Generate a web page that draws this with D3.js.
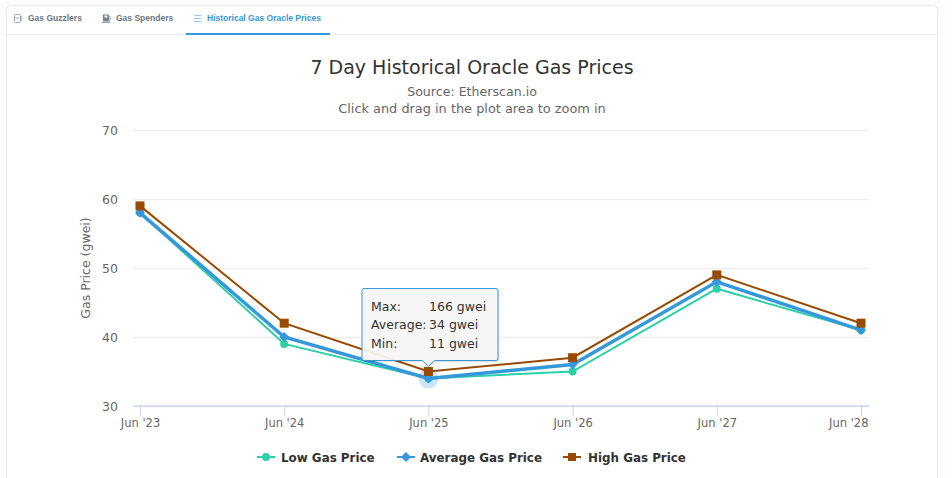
<!DOCTYPE html>
<html>
<head>
<meta charset="utf-8">
<script src="https://cdn.jsdelivr.net/npm/d3@7"></script>
<style>
  html, body { margin: 0; padding: 0; background: #ffffff; overflow: hidden; }
  text { font-family: "DejaVu Sans", sans-serif; }
  .tab { font-family: "Liberation Sans", sans-serif; font-size: 8.5px; font-weight: bold; }
</style>
</head>
<body>
<div id="chart"></div>
<script>
// Chart data
const categories = ["Jun '23", "Jun '24", "Jun '25", "Jun '26", "Jun '27", "Jun '28"];
const lowPrices = [58, 39, 34, 35, 47, 41];
const avgPrices = [58, 40, 34, 36, 48, 41];
const highPrices = [59, 42, 35, 37, 49, 42];
const yTicks = [30, 40, 50, 60, 70];
const tooltipLabels = ["Max:", "Average:", "Min:"];
const tooltipValues = ["166 gwei", "34 gwei", "11 gwei"];
const tabNames = ["Gas Guzzlers", "Gas Spenders", "Historical Gas Oracle Prices"];

const width = 952, height = 478;
const svg = d3.select("#chart").append("svg")
    .attr("width", width)
    .attr("height", height)
    .style("display", "block");

// Card behind the chart
svg.append("rect").attr("width", width).attr("height", height).attr("fill", "#fdfdfe");
svg.append("rect")
    .attr("x", 6.5).attr("y", 5.5)
    .attr("width", 931).attr("height", 490)
    .attr("rx", 5)
    .attr("fill", "#ffffff")
    .attr("stroke", "#e7eaf3");

// Tabs along the top
svg.append("line").attr("x1", 7).attr("x2", 937).attr("y1", 34.5).attr("y2", 34.5).attr("stroke", "#e7eaf3");
svg.append("rect").attr("x", 186).attr("y", 33).attr("width", 144).attr("height", 2).attr("fill", "#3498db");

const tabX = [28, 116, 207];
tabNames.forEach(function(name, i) {
    svg.append("text")
        .attr("class", "tab")
        .attr("x", tabX[i]).attr("y", 21)
        .attr("fill", i === 2 ? "#3498db" : "#6c757e")
        .text(name);
});

// Pump icons, just rough little shapes
svg.append("rect").attr("x", 14.5).attr("y", 14.5).attr("width", 6).attr("height", 8).attr("rx", 1)
    .attr("fill", "none").attr("stroke", "#8c98a4").attr("stroke-width", 0.8);
svg.append("line").attr("x1", 14.5).attr("x2", 20.5).attr("y1", 18).attr("y2", 18).attr("stroke", "#8c98a4").attr("stroke-width", 0.7);
svg.append("path").attr("d", "M21 16 q2 2 0 5").attr("fill", "none").attr("stroke", "#8c98a4").attr("stroke-width", 0.8);
svg.append("rect").attr("x", 103).attr("y", 14.5).attr("width", 6).attr("height", 7).attr("fill", "#77838f");
svg.append("rect").attr("x", 104.5).attr("y", 15.5).attr("width", 3).attr("height", 2).attr("fill", "#ffffff");
svg.append("line").attr("x1", 102).attr("x2", 110).attr("y1", 22.5).attr("y2", 22.5).attr("stroke", "#77838f").attr("stroke-width", 0.8);
svg.append("path").attr("d", "M109.5 16 q2 2 0 5").attr("fill", "none").attr("stroke", "#77838f").attr("stroke-width", 0.8);
[16, 19, 22].forEach(function(y) {
    svg.append("line").attr("x1", 194).attr("x2", 201.5).attr("y1", y - 0.5).attr("y2", y - 0.5)
        .attr("stroke", "#7fb9e6").attr("stroke-width", 0.8);
});

// Titles
svg.append("text").attr("x", 472).attr("y", 74).attr("text-anchor", "middle")
    .attr("font-size", 19).attr("fill", "#333333").text("7 Day Historical Oracle Gas Prices");
svg.append("text").attr("x", 472).attr("y", 96).attr("text-anchor", "middle")
    .attr("font-size", 12.6).attr("fill", "#666666").text("Source: Etherscan.io");
svg.append("text").attr("x", 472).attr("y", 113).attr("text-anchor", "middle")
    .attr("font-size", 12.9).attr("fill", "#666666").text("Click and drag in the plot area to zoom in");

// Scales
const plotLeft = 133, plotRight = 869;
const xScale = d3.scalePoint().domain(categories).range([140, 861]);
const yScale = d3.scaleLinear().domain([30, 70]).range([406, 130]);

// Y axis with gridlines
const yAxis = svg.append("g")
    .attr("transform", `translate(${plotLeft},0)`)
    .call(d3.axisLeft(yScale).tickValues(yTicks).tickSize(-(plotRight - plotLeft)).tickPadding(15));
yAxis.select(".domain").remove();
yAxis.selectAll("line").attr("stroke", "#eeeeee").attr("stroke-width", 1.5);
yAxis.selectAll("text").attr("font-size", 12.5).attr("fill", "#666666")
    .style("font-family", '"DejaVu Sans", sans-serif');

svg.append("text")
    .attr("transform", "translate(90,268) rotate(-90)")
    .attr("text-anchor", "middle")
    .attr("font-size", 12.5).attr("fill", "#666666")
    .text("Gas Price (gwei)");

// X axis
const xAxis = svg.append("g")
    .attr("transform", "translate(0,406)")
    .call(d3.axisBottom(xScale).tickSize(10).tickPadding(3).tickSizeOuter(0));
xAxis.select(".domain").remove();
xAxis.selectAll("line").attr("stroke", "#ccd6eb");
xAxis.selectAll("text").attr("font-size", 11.5).attr("fill", "#666666")
    .style("font-family", '"DejaVu Sans", sans-serif');
// Last label gets pushed back inside the plot edge
xAxis.selectAll(".tick:last-of-type text").attr("text-anchor", "end").attr("dx", plotRight - xScale(categories[5]) - 1);
svg.append("line").attr("x1", plotLeft).attr("x2", plotRight).attr("y1", 406).attr("y2", 406)
    .attr("stroke", "#ccd6eb").attr("stroke-width", 1.5);

// Series
const line = d3.line().x((d, i) => xScale(categories[i])).y(d => yScale(d));

const series = [
    { name: "Low Gas Price", values: lowPrices, color: "#2bd1a6", marker: "circle", width: 2, size: 4 },
    { name: "Average Gas Price", values: avgPrices, color: "#3498db", marker: "diamond", width: 3.5, size: 4 },
    { name: "High Gas Price", values: highPrices, color: "#974a00", marker: "square", width: 2, size: 4.5 }
];

function drawMarker(g, type, x, y, color, size) {
    if (type === "circle") {
        g.append("circle").attr("cx", x).attr("cy", y).attr("r", size).attr("fill", color);
    } else if (type === "diamond") {
        g.append("path")
            .attr("d", `M${x},${y - size - 1}L${x + size + 1},${y}L${x},${y + size + 1}L${x - size - 1},${y}Z`)
            .attr("fill", color);
    } else {
        g.append("rect").attr("x", x - size).attr("y", y - size)
            .attr("width", size * 2).attr("height", size * 2).attr("fill", color);
    }
}

// Hover halo on the Jun '25 average point
svg.append("circle")
    .attr("cx", xScale(categories[2])).attr("cy", yScale(avgPrices[2]))
    .attr("r", 10).attr("fill", "#3498db").attr("opacity", 0.25);

series.forEach(function(s) {
    const g = svg.append("g");
    g.append("path").datum(s.values)
        .attr("fill", "none")
        .attr("stroke", s.color)
        .attr("stroke-width", s.width)
        .attr("d", line);
    s.values.forEach(function(v, i) {
        drawMarker(g, s.marker, xScale(categories[i]), yScale(v), s.color, s.size);
    });
});

// Tooltip anchored on the High point of Jun '25
const tipX = xScale(categories[2]);
const tipBottom = 360.5, tipTop = 288.5, tipLeft = 362, tipRight = 498;
const tip = svg.append("g");
const tipPath = `M${tipLeft + 2},${tipTop} L${tipRight - 2},${tipTop} Q${tipRight},${tipTop} ${tipRight},${tipTop + 2}
    L${tipRight},${tipBottom - 2} Q${tipRight},${tipBottom} ${tipRight - 2},${tipBottom}
    L${tipX + 6},${tipBottom} L${tipX},${tipBottom + 6} L${tipX - 6},${tipBottom}
    L${tipLeft + 2},${tipBottom} Q${tipLeft},${tipBottom} ${tipLeft},${tipBottom - 2}
    L${tipLeft},${tipTop + 2} Q${tipLeft},${tipTop} ${tipLeft + 2},${tipTop} Z`;
tip.append("path").attr("d", tipPath).attr("fill", "#000").attr("opacity", 0.12)
    .attr("transform", "translate(1,1.5)");
tip.append("path").attr("d", tipPath)
    .attr("fill", "#f7f7f7").attr("fill-opacity", 0.92)
    .attr("stroke", "#3498db").attr("stroke-width", 1);

tooltipLabels.forEach(function(label, i) {
    const y = 311 + i * 18.3;
    tip.append("text").attr("x", 371).attr("y", y).attr("font-size", 12.5).attr("fill", "#333333").text(label);
    tip.append("text").attr("x", 429).attr("y", y).attr("font-size", 12.5).attr("fill", "#333333").text(tooltipValues[i]);
});

// Legend
const legendX = [257, 397, 563];
const legendTextX = [281, 420, 588];
series.forEach(function(s, i) {
    const g = svg.append("g");
    const x = legendX[i];
    g.append("line").attr("x1", x).attr("x2", x + 18).attr("y1", 457).attr("y2", 457)
        .attr("stroke", s.color).attr("stroke-width", 2);
    drawMarker(g, s.marker, x + 9, 457, s.color, 4);
    g.append("text").attr("x", legendTextX[i]).attr("y", 462)
        .attr("font-size", 11.9).attr("font-weight", "bold").attr("fill", "#333333")
        .text(s.name);
});
</script>
</body>
</html>
